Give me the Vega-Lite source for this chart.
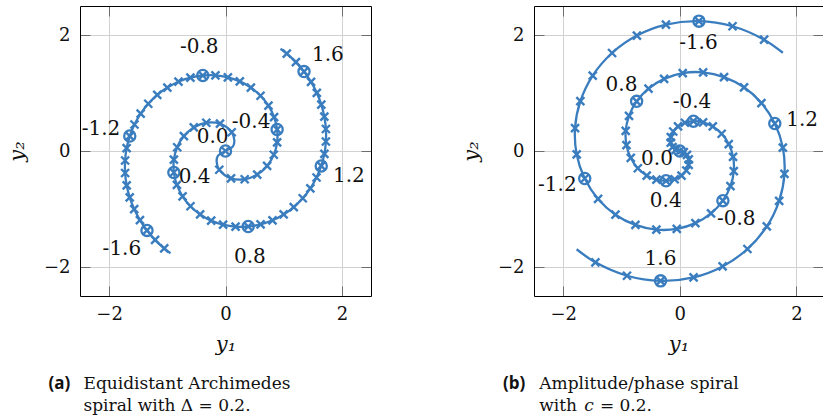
{
  "$schema": "https://vega.github.io/schema/vega-lite/v6.json",
  "padding": {"left": 6, "top": 5, "right": 0, "bottom": 0},
  "background": "white",
  "config": {
    "font": "DejaVu Serif",
    "view": {"stroke": null},
    "axis": {
      "domainColor": "#000000",
      "domainWidth": 1,
      "tickColor": "#6e6e6e",
      "tickWidth": 1,
      "gridColor": "#d2d2d2",
      "gridWidth": 1,
      "labelFont": "DejaVu Serif",
      "labelFontSize": 18,
      "labelColor": "#111111",
      "titleFont": "DejaVu Serif",
      "titleFontSize": 21,
      "titleFontStyle": "italic",
      "titleFontWeight": "normal",
      "titleColor": "#111111"
    }
  },
  "datasets": {
    "archimedes": [
      {"t": -1.732, "x": -0.945, "y": -1.763, "end": true},
      {"t": -1.70, "x": -1.053, "y": -1.679},
      {"t": -1.65, "x": -1.210, "y": -1.532},
      {"t": -1.60, "x": -1.349, "y": -1.369, "ring": true},
      {"t": -1.55, "x": -1.470, "y": -1.191},
      {"t": -1.50, "x": -1.569, "y": -1.001},
      {"t": -1.45, "x": -1.646, "y": -0.801},
      {"t": -1.40, "x": -1.698, "y": -0.592},
      {"t": -1.35, "x": -1.725, "y": -0.379},
      {"t": -1.30, "x": -1.725, "y": -0.164},
      {"t": -1.25, "x": -1.699, "y": 0.049},
      {"t": -1.20, "x": -1.645, "y": 0.258, "ring": true},
      {"t": -1.15, "x": -1.564, "y": 0.457},
      {"t": -1.10, "x": -1.458, "y": 0.645},
      {"t": -1.05, "x": -1.327, "y": 0.815},
      {"t": -1.00, "x": -1.173, "y": 0.967},
      {"t": -0.95, "x": -0.999, "y": 1.094},
      {"t": -0.90, "x": -0.808, "y": 1.195},
      {"t": -0.85, "x": -0.603, "y": 1.265},
      {"t": -0.80, "x": -0.390, "y": 1.302, "ring": true},
      {"t": -0.75, "x": -0.173, "y": 1.305},
      {"t": -0.70, "x": 0.041, "y": 1.271},
      {"t": -0.65, "x": 0.246, "y": 1.200},
      {"t": -0.60, "x": 0.436, "y": 1.094},
      {"t": -0.55, "x": 0.602, "y": 0.953},
      {"t": -0.50, "x": 0.738, "y": 0.781},
      {"t": -0.45, "x": 0.835, "y": 0.585},
      {"t": -0.40, "x": 0.887, "y": 0.371, "ring": true},
      {"t": -0.35, "x": 0.887, "y": 0.150},
      {"t": -0.30, "x": 0.830, "y": -0.065},
      {"t": -0.25, "x": 0.715, "y": -0.257},
      {"t": -0.20, "x": 0.545, "y": -0.406},
      {"t": -0.15, "x": 0.330, "y": -0.487},
      {"t": -0.10, "x": 0.095, "y": -0.471},
      {"t": -0.05, "x": -0.107, "y": -0.323},
      {"t": -0.025, "x": -0.152, "y": -0.186, "end": true},
      {"t": -0.01, "x": -0.129, "y": -0.081, "end": true},
      {"t": 0.00, "x": 0.000, "y": 0.000, "ring": true},
      {"t": 0.01, "x": 0.129, "y": 0.081, "end": true},
      {"t": 0.025, "x": 0.152, "y": 0.186, "end": true},
      {"t": 0.05, "x": 0.107, "y": 0.323},
      {"t": 0.10, "x": -0.095, "y": 0.471},
      {"t": 0.15, "x": -0.330, "y": 0.487},
      {"t": 0.20, "x": -0.545, "y": 0.406},
      {"t": 0.25, "x": -0.715, "y": 0.257},
      {"t": 0.30, "x": -0.830, "y": 0.065},
      {"t": 0.35, "x": -0.887, "y": -0.150},
      {"t": 0.40, "x": -0.887, "y": -0.371, "ring": true},
      {"t": 0.45, "x": -0.835, "y": -0.585},
      {"t": 0.50, "x": -0.738, "y": -0.781},
      {"t": 0.55, "x": -0.602, "y": -0.953},
      {"t": 0.60, "x": -0.436, "y": -1.094},
      {"t": 0.65, "x": -0.246, "y": -1.200},
      {"t": 0.70, "x": -0.041, "y": -1.271},
      {"t": 0.75, "x": 0.173, "y": -1.305},
      {"t": 0.80, "x": 0.390, "y": -1.302, "ring": true},
      {"t": 0.85, "x": 0.603, "y": -1.265},
      {"t": 0.90, "x": 0.808, "y": -1.195},
      {"t": 0.95, "x": 0.999, "y": -1.094},
      {"t": 1.00, "x": 1.173, "y": -0.967},
      {"t": 1.05, "x": 1.327, "y": -0.815},
      {"t": 1.10, "x": 1.458, "y": -0.645},
      {"t": 1.15, "x": 1.564, "y": -0.457},
      {"t": 1.20, "x": 1.645, "y": -0.258, "ring": true},
      {"t": 1.25, "x": 1.699, "y": -0.049},
      {"t": 1.30, "x": 1.725, "y": 0.164},
      {"t": 1.35, "x": 1.725, "y": 0.379},
      {"t": 1.40, "x": 1.698, "y": 0.592},
      {"t": 1.45, "x": 1.646, "y": 0.801},
      {"t": 1.50, "x": 1.569, "y": 1.001},
      {"t": 1.55, "x": 1.470, "y": 1.191},
      {"t": 1.60, "x": 1.349, "y": 1.369, "ring": true},
      {"t": 1.65, "x": 1.210, "y": 1.532},
      {"t": 1.70, "x": 1.053, "y": 1.679},
      {"t": 1.732, "x": 0.945, "y": 1.763, "end": true}
    ],
    "amplitudePhase": [
      {"t": -1.732, "x": 1.769, "y": 1.694, "end": true},
      {"t": -1.70, "x": 1.447, "y": 1.920},
      {"t": -1.65, "x": 0.905, "y": 2.151},
      {"t": -1.60, "x": 0.329, "y": 2.239, "ring": true},
      {"t": -1.55, "x": -0.237, "y": 2.179},
      {"t": -1.50, "x": -0.735, "y": 1.990},
      {"t": -1.45, "x": -1.161, "y": 1.690},
      {"t": -1.40, "x": -1.493, "y": 1.301},
      {"t": -1.35, "x": -1.705, "y": 0.859},
      {"t": -1.30, "x": -1.796, "y": 0.396},
      {"t": -1.25, "x": -1.768, "y": -0.059},
      {"t": -1.20, "x": -1.630, "y": -0.474, "ring": true},
      {"t": -1.15, "x": -1.401, "y": -0.827},
      {"t": -1.10, "x": -1.103, "y": -1.098},
      {"t": -1.05, "x": -0.760, "y": -1.275},
      {"t": -1.00, "x": -0.401, "y": -1.356},
      {"t": -0.95, "x": -0.051, "y": -1.343},
      {"t": -0.90, "x": 0.268, "y": -1.244},
      {"t": -0.85, "x": 0.536, "y": -1.076},
      {"t": -0.80, "x": 0.740, "y": -0.856, "ring": true},
      {"t": -0.75, "x": 0.870, "y": -0.606},
      {"t": -0.70, "x": 0.927, "y": -0.347},
      {"t": -0.65, "x": 0.914, "y": -0.100},
      {"t": -0.60, "x": 0.840, "y": 0.120},
      {"t": -0.55, "x": 0.719, "y": 0.297},
      {"t": -0.50, "x": 0.567, "y": 0.423},
      {"t": -0.45, "x": 0.400, "y": 0.495},
      {"t": -0.40, "x": 0.235, "y": 0.514, "ring": true},
      {"t": -0.35, "x": 0.088, "y": 0.487},
      {"t": -0.30, "x": -0.030, "y": 0.423},
      {"t": -0.25, "x": -0.112, "y": 0.336},
      {"t": -0.20, "x": -0.153, "y": 0.238},
      {"t": -0.15, "x": -0.155, "y": 0.145},
      {"t": -0.10, "x": -0.124, "y": 0.068},
      {"t": -0.05, "x": -0.069, "y": 0.018},
      {"t": 0.00, "x": 0.000, "y": 0.000, "ring": true},
      {"t": 0.05, "x": 0.069, "y": -0.018},
      {"t": 0.10, "x": 0.124, "y": -0.068},
      {"t": 0.15, "x": 0.155, "y": -0.145},
      {"t": 0.20, "x": 0.153, "y": -0.238},
      {"t": 0.25, "x": 0.112, "y": -0.336},
      {"t": 0.30, "x": 0.030, "y": -0.423},
      {"t": 0.35, "x": -0.088, "y": -0.487},
      {"t": 0.40, "x": -0.235, "y": -0.514, "ring": true},
      {"t": 0.45, "x": -0.400, "y": -0.495},
      {"t": 0.50, "x": -0.567, "y": -0.423},
      {"t": 0.55, "x": -0.719, "y": -0.297},
      {"t": 0.60, "x": -0.840, "y": -0.120},
      {"t": 0.65, "x": -0.914, "y": 0.100},
      {"t": 0.70, "x": -0.927, "y": 0.347},
      {"t": 0.75, "x": -0.870, "y": 0.606},
      {"t": 0.80, "x": -0.740, "y": 0.856, "ring": true},
      {"t": 0.85, "x": -0.536, "y": 1.076},
      {"t": 0.90, "x": -0.268, "y": 1.244},
      {"t": 0.95, "x": 0.051, "y": 1.343},
      {"t": 1.00, "x": 0.401, "y": 1.356},
      {"t": 1.05, "x": 0.760, "y": 1.275},
      {"t": 1.10, "x": 1.103, "y": 1.098},
      {"t": 1.15, "x": 1.401, "y": 0.827},
      {"t": 1.20, "x": 1.630, "y": 0.474, "ring": true},
      {"t": 1.25, "x": 1.768, "y": 0.059},
      {"t": 1.30, "x": 1.796, "y": -0.396},
      {"t": 1.35, "x": 1.705, "y": -0.859},
      {"t": 1.40, "x": 1.493, "y": -1.301},
      {"t": 1.45, "x": 1.161, "y": -1.690},
      {"t": 1.50, "x": 0.735, "y": -1.990},
      {"t": 1.55, "x": 0.237, "y": -2.179},
      {"t": 1.60, "x": -0.329, "y": -2.239, "ring": true},
      {"t": 1.65, "x": -0.905, "y": -2.151},
      {"t": 1.70, "x": -1.447, "y": -1.920},
      {"t": 1.732, "x": -1.769, "y": -1.694, "end": true}
    ],
    "archimedesLabels": [
      {"lab": "-0.8", "x": -0.45, "y": 1.79},
      {"lab": "1.6", "x": 1.76, "y": 1.66},
      {"lab": "-0.4", "x": 0.44, "y": 0.50},
      {"lab": "-1.2", "x": -2.14, "y": 0.38},
      {"lab": "0.0", "x": -0.22, "y": 0.25},
      {"lab": "0.4", "x": -0.53, "y": -0.44},
      {"lab": "1.2", "x": 2.12, "y": -0.43},
      {"lab": "-1.6", "x": -1.78, "y": -1.69},
      {"lab": "0.8", "x": 0.42, "y": -1.83}
    ],
    "amplitudePhaseLabels": [
      {"lab": "-1.6", "x": 0.32, "y": 1.86},
      {"lab": "0.8", "x": -1.0, "y": 1.14},
      {"lab": "-0.4", "x": 0.21, "y": 0.84},
      {"lab": "1.2", "x": 2.10, "y": 0.54},
      {"lab": "0.0", "x": -0.39, "y": -0.14},
      {"lab": "-1.2", "x": -2.10, "y": -0.59},
      {"lab": "0.4", "x": -0.24, "y": -0.86},
      {"lab": "-0.8", "x": 0.97, "y": -1.17},
      {"lab": "1.6", "x": -0.33, "y": -1.87}
    ]
  },
  "hconcat": [
    {
      "width": 291,
      "height": 290,
      "data": {"name": "archimedes"},
      "layer": [
        {
          "mark": {"type": "line", "interpolate": "catmull-rom", "strokeWidth": 2.3, "color": "#3a7dbf"},
          "encoding": {
            "x": {"field": "x", "type": "quantitative", "scale": {"domain": [-2.5, 2.5], "nice": false, "zero": false},
                  "axis": {"orient": "bottom", "title": "y₁", "values": [-2, 0, 2], "grid": true, "tickSize": -10, "labelPadding": 19, "titlePadding": 10}},
            "y": {"field": "y", "type": "quantitative", "scale": {"domain": [-2.5, 2.5], "nice": false, "zero": false},
                  "axis": {"orient": "left", "title": "y₂", "values": [-2, 0, 2], "grid": true, "tickSize": -10, "labelPadding": 20, "titlePadding": 16}},
            "order": {"field": "t", "type": "quantitative"}
          }
        },
        {
          "transform": [{"filter": "!datum.end"}],
          "mark": {"type": "point", "shape": "M-1,-1L1,1M-1,1L1,-1", "filled": false, "strokeWidth": 2.4, "size": 64, "opacity": 1, "color": "#3a7dbf"},
          "encoding": {
            "x": {"field": "x", "type": "quantitative", "scale": {"domain": [-2.5, 2.5], "nice": false, "zero": false},
                  "axis": {"orient": "top", "title": null, "labels": false, "values": [-2, 0, 2], "grid": false, "tickSize": -10}},
            "y": {"field": "y", "type": "quantitative", "scale": {"domain": [-2.5, 2.5], "nice": false, "zero": false},
                  "axis": {"orient": "right", "title": null, "labels": false, "values": [-2, 0, 2], "grid": false, "tickSize": -10}}
          }
        },
        {
          "transform": [{"filter": "datum.ring"}],
          "mark": {"type": "point", "shape": "circle", "filled": false, "strokeWidth": 2.3, "size": 125, "opacity": 1, "color": "#3a7dbf"},
          "encoding": {
            "x": {"field": "x", "type": "quantitative", "scale": {"domain": [-2.5, 2.5], "nice": false, "zero": false}, "axis": null},
            "y": {"field": "y", "type": "quantitative", "scale": {"domain": [-2.5, 2.5], "nice": false, "zero": false}, "axis": null}
          }
        },
        {
          "data": {"name": "archimedesLabels"},
          "mark": {"type": "text", "fontSize": 20, "align": "center", "baseline": "middle", "color": "#111111"},
          "encoding": {
            "x": {"field": "x", "type": "quantitative", "scale": {"domain": [-2.5, 2.5], "nice": false, "zero": false}, "axis": null},
            "y": {"field": "y", "type": "quantitative", "scale": {"domain": [-2.5, 2.5], "nice": false, "zero": false}, "axis": null},
            "text": {"field": "lab"}
          }
        },
        {
          "data": {"values": [{}]},
          "mark": {"type": "text", "font": "Open Sans", "fontWeight": "bold", "fontSize": 17, "align": "left", "baseline": "alphabetic", "color": "#111111"},
          "encoding": {
            "x": {"datum": -3.04, "type": "quantitative", "scale": {"domain": [-2.5, 2.5], "nice": false, "zero": false}, "axis": null},
            "y": {"datum": -4.105, "type": "quantitative", "scale": {"domain": [-2.5, 2.5], "nice": false, "zero": false}, "axis": null},
            "text": {"value": "(a)"}
          }
        },
        {
          "data": {"values": [{}]},
          "mark": {"type": "text", "fontSize": 17, "lineHeight": 22, "align": "left", "baseline": "alphabetic", "color": "#111111"},
          "encoding": {
            "x": {"datum": -2.44, "type": "quantitative", "scale": {"domain": [-2.5, 2.5], "nice": false, "zero": false}, "axis": null},
            "y": {"datum": -4.105, "type": "quantitative", "scale": {"domain": [-2.5, 2.5], "nice": false, "zero": false}, "axis": null},
            "text": {"value": ["Equidistant Archimedes", "spiral with Δ = 0.2."]}
          }
        }
      ],
      "resolve": {"axis": {"x": "independent", "y": "independent"}}
    },
    {
      "width": 289,
      "height": 290,
      "data": {"name": "amplitudePhase"},
      "layer": [
        {
          "mark": {"type": "line", "interpolate": "catmull-rom", "strokeWidth": 2.3, "color": "#3a7dbf"},
          "encoding": {
            "x": {"field": "x", "type": "quantitative", "scale": {"domain": [-2.5, 2.457], "nice": false, "zero": false},
                  "axis": {"orient": "bottom", "title": "y₁", "values": [-2, 0, 2], "grid": true, "tickSize": -10, "labelPadding": 19, "titlePadding": 10}},
            "y": {"field": "y", "type": "quantitative", "scale": {"domain": [-2.5, 2.5], "nice": false, "zero": false},
                  "axis": {"orient": "left", "title": "y₂", "values": [-2, 0, 2], "grid": true, "tickSize": -10, "labelPadding": 20, "titlePadding": 16}},
            "order": {"field": "t", "type": "quantitative"}
          }
        },
        {
          "transform": [{"filter": "!datum.end"}],
          "mark": {"type": "point", "shape": "M-1,-1L1,1M-1,1L1,-1", "filled": false, "strokeWidth": 2.4, "size": 64, "opacity": 1, "color": "#3a7dbf"},
          "encoding": {
            "x": {"field": "x", "type": "quantitative", "scale": {"domain": [-2.5, 2.457], "nice": false, "zero": false},
                  "axis": {"orient": "top", "title": null, "labels": false, "values": [-2, 0, 2], "grid": false, "tickSize": -10}},
            "y": {"field": "y", "type": "quantitative", "scale": {"domain": [-2.5, 2.5], "nice": false, "zero": false},
                  "axis": {"orient": "right", "title": null, "labels": false, "domain": false, "values": [-2, 0, 2], "grid": false, "tickSize": -10}}
          }
        },
        {
          "transform": [{"filter": "datum.ring"}],
          "mark": {"type": "point", "shape": "circle", "filled": false, "strokeWidth": 2.3, "size": 125, "opacity": 1, "color": "#3a7dbf"},
          "encoding": {
            "x": {"field": "x", "type": "quantitative", "scale": {"domain": [-2.5, 2.457], "nice": false, "zero": false}, "axis": null},
            "y": {"field": "y", "type": "quantitative", "scale": {"domain": [-2.5, 2.5], "nice": false, "zero": false}, "axis": null}
          }
        },
        {
          "data": {"name": "amplitudePhaseLabels"},
          "mark": {"type": "text", "fontSize": 20, "align": "center", "baseline": "middle", "color": "#111111"},
          "encoding": {
            "x": {"field": "x", "type": "quantitative", "scale": {"domain": [-2.5, 2.457], "nice": false, "zero": false}, "axis": null},
            "y": {"field": "y", "type": "quantitative", "scale": {"domain": [-2.5, 2.5], "nice": false, "zero": false}, "axis": null},
            "text": {"field": "lab"}
          }
        },
        {
          "data": {"values": [{}]},
          "mark": {"type": "text", "font": "Open Sans", "fontWeight": "bold", "fontSize": 17, "align": "left", "baseline": "alphabetic", "color": "#111111"},
          "encoding": {
            "x": {"datum": -3.03, "type": "quantitative", "scale": {"domain": [-2.5, 2.457], "nice": false, "zero": false}, "axis": null},
            "y": {"datum": -4.105, "type": "quantitative", "scale": {"domain": [-2.5, 2.5], "nice": false, "zero": false}, "axis": null},
            "text": {"value": "(b)"}
          }
        },
        {
          "data": {"values": [{}]},
          "mark": {"type": "text", "fontSize": 17, "lineHeight": 22, "align": "left", "baseline": "alphabetic", "color": "#111111"},
          "encoding": {
            "x": {"datum": -2.41, "type": "quantitative", "scale": {"domain": [-2.5, 2.457], "nice": false, "zero": false}, "axis": null},
            "y": {"datum": -4.105, "type": "quantitative", "scale": {"domain": [-2.5, 2.5], "nice": false, "zero": false}, "axis": null},
            "text": {"value": ["Amplitude/phase spiral", "with"]}
          }
        },
        {
          "data": {"values": [{}]},
          "mark": {"type": "text", "fontSize": 17, "fontStyle": "italic", "align": "left", "baseline": "alphabetic", "color": "#111111"},
          "encoding": {
            "x": {"datum": -1.64, "type": "quantitative", "scale": {"domain": [-2.5, 2.457], "nice": false, "zero": false}, "axis": null},
            "y": {"datum": -4.48, "type": "quantitative", "scale": {"domain": [-2.5, 2.5], "nice": false, "zero": false}, "axis": null},
            "text": {"value": "c"}
          }
        },
        {
          "data": {"values": [{}]},
          "mark": {"type": "text", "fontSize": 17, "align": "left", "baseline": "alphabetic", "color": "#111111"},
          "encoding": {
            "x": {"datum": -1.37, "type": "quantitative", "scale": {"domain": [-2.5, 2.457], "nice": false, "zero": false}, "axis": null},
            "y": {"datum": -4.48, "type": "quantitative", "scale": {"domain": [-2.5, 2.5], "nice": false, "zero": false}, "axis": null},
            "text": {"value": "= 0.2."}
          }
        }
      ],
      "resolve": {"axis": {"x": "independent", "y": "independent"}}
    }
  ],
  "bounds": "flush",
  "spacing": 163
}
